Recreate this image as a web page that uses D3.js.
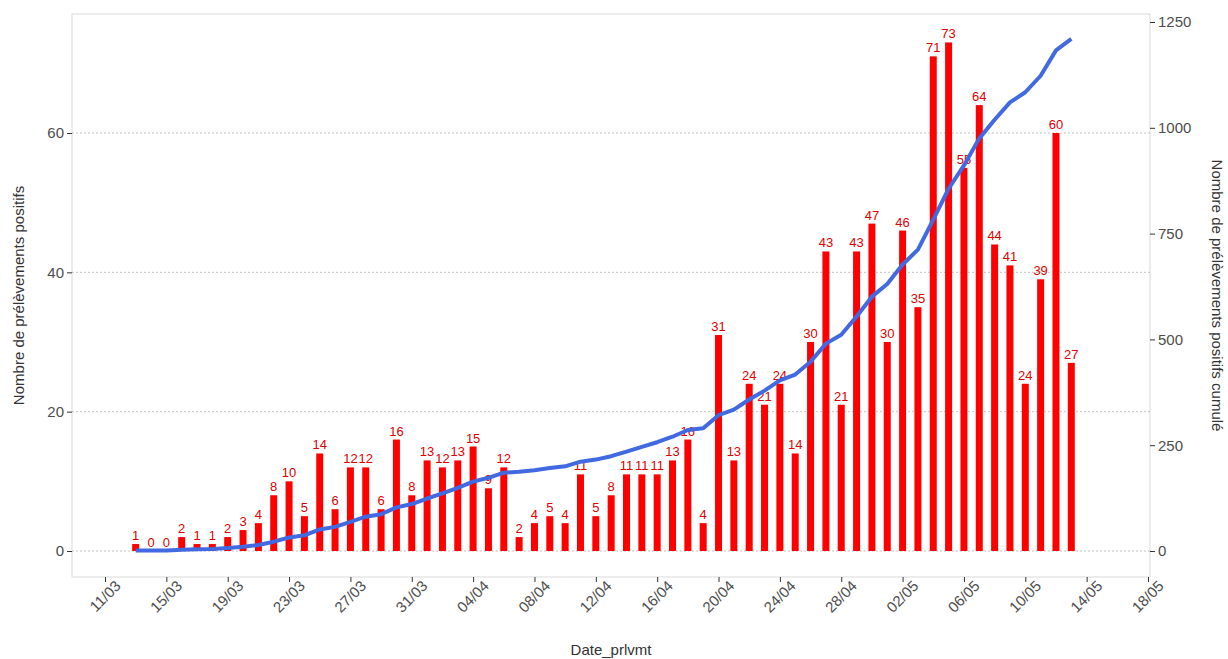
<!DOCTYPE html>
<html><head><meta charset="utf-8">
<script src="https://cdn.jsdelivr.net/npm/d3@7"></script>
<style>body{margin:0;background:#fff;font-family:"Liberation Sans",Arial,sans-serif}</style>
</head><body><svg id="c" width="1228" height="659"></svg>
<script>
const startDate = "2020-03-13";
const daily = [1,0,0,2,1,1,2,3,4,8,10,5,14,6,12,12,6,16,8,13,12,13,15,9,12,2,4,5,4,11,5,8,11,11,11,13,16,4,31,13,24,21,24,14,30,43,21,43,47,30,46,35,71,73,55,64,44,41,24,39,60,27];
const cumul = [1,1,1,3,4,5,7,10,14,22,32,37,51,57,69,81,87,103,111,124,136,149,164,173,185,187,191,196,200,211,216,224,235,246,257,270,286,290,321,334,358,379,403,417,447,490,511,554,601,631,677,712,783,856,911,975,1019,1060,1084,1123,1183,1210];
const leftTicks = [0,20,40,60];
const rightTicks = [0,250,500,750,1000,1250];

const parse = d3.timeParse("%Y-%m-%d");
const t0 = parse(startDate);
const dates = daily.map((d,i)=>d3.timeDay.offset(t0,i));
const data = daily.map((v,i)=>({date:dates[i],v,c:cumul[i]}));

const svg = d3.select("#c");
const L=72,R=1150,T=14,B=577;
const x = d3.scaleTime().domain([parse("2020-03-11"),parse("2020-05-18")]).range([105,1148]);
const y = d3.scaleLinear().domain([0,60]).range([551,133]);
const y2 = d3.scaleLinear().domain([0,1250]).range([551,22]);

svg.append("rect").attr("x",L).attr("y",T).attr("width",R-L).attr("height",B-T).attr("fill","#fff").attr("stroke","#d9d9d9");
svg.append("g").selectAll("line").data(leftTicks).join("line")
  .attr("x1",L).attr("x2",R).attr("y1",d=>y(d)).attr("y2",d=>y(d))
  .attr("stroke","#b5b5b5").attr("stroke-width",0.8).attr("stroke-dasharray","2,2");

const bw = 7;
svg.append("g").selectAll("rect").data(data).join("rect")
  .attr("x",d=>x(d.date)-bw/2).attr("width",bw)
  .attr("y",d=>y(d.v)).attr("height",d=>y(0)-y(d.v)).attr("fill","#ff0000");
svg.append("g").selectAll("text").data(data).join("text")
  .attr("x",d=>x(d.date)).attr("y",d=>y(d.v)-4).attr("text-anchor","middle")
  .attr("font-size",13).attr("fill","#e00000").text(d=>d.v);

svg.append("path").datum(data)
  .attr("d",d3.line().x(d=>x(d.date)).y(d=>y2(d.c)))
  .attr("fill","none").attr("stroke","#4169e1").attr("stroke-width",4).attr("stroke-linejoin","round");

const xt = d3.timeDay.range(parse("2020-03-11"),parse("2020-05-19"),4);
const gx = svg.append("g").attr("transform",`translate(0,${B})`)
  .call(d3.axisBottom(x).tickValues(xt).tickFormat(d3.timeFormat("%d/%m")).tickSize(5));
gx.select(".domain").remove();
gx.selectAll("line").attr("stroke","#333");
gx.selectAll("text").attr("font-size",15).attr("fill","#4d4d4d")
  .attr("text-anchor","end").attr("dx","0.3em").attr("dy","0.7em").attr("transform","rotate(-45)");

const gy = svg.append("g").attr("transform",`translate(${L},0)`)
  .call(d3.axisLeft(y).tickValues(leftTicks).tickSize(5));
gy.select(".domain").remove();
gy.selectAll("line").attr("stroke","#333");
gy.selectAll("text").attr("font-size",15).attr("fill","#4d4d4d");
const gy2 = svg.append("g").attr("transform",`translate(${R},0)`)
  .call(d3.axisRight(y2).tickValues(rightTicks).tickFormat(d3.format("d")).tickSize(5));
gy2.select(".domain").remove();
gy2.selectAll("line").attr("stroke","#333");
gy2.selectAll("text").attr("font-size",15).attr("fill","#4d4d4d");

svg.append("text").attr("x",(L+R)/2).attr("y",655).attr("text-anchor","middle")
  .attr("font-size",15).attr("fill","#333").text("Date_prlvmt");
svg.append("text").attr("transform",`translate(24,${(T+B)/2}) rotate(-90)`).attr("text-anchor","middle")
  .attr("font-size",15).attr("fill","#333").text("Nombre de prélèvements positifs");
svg.append("text").attr("transform",`translate(1212,${(T+B)/2}) rotate(90)`).attr("text-anchor","middle")
  .attr("font-size",15).attr("fill","#333").text("Nombre de prélèvements positifs cumulé");
</script></body></html>
